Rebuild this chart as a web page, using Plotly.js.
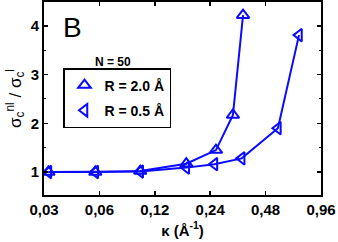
<!DOCTYPE html>
<html>
<head>
<meta charset="utf-8">
<script src="https://cdn.plot.ly/plotly-3.0.1.min.js"></script>
<style>html,body{margin:0;padding:0;background:#fff;}#chart{width:338px;height:242px;}</style>
</head>
<body>
<div id="chart"></div>
<script>
// Data
const kappaR20 = [0.0317, 0.057, 0.1, 0.178, 0.258, 0.319, 0.362];
const ratioR20 = [1.0, 1.0, 1.02, 1.17, 1.45, 2.17, 4.22];
const kappaR05 = [0.0317, 0.057, 0.1, 0.178, 0.253, 0.356, 0.56, 0.729];
const ratioR05 = [1.0, 1.0, 1.01, 1.09, 1.16, 1.28, 1.9, 3.81];
const xTickVals = [0.03, 0.06, 0.12, 0.24, 0.48, 0.96];
const xTickText = ['0,03', '0,06', '0,12', '0,24', '0,48', '0,96'];
const yTickVals = [1, 2, 3, 4];
const seriesNames = ['R = 2.0 Å', 'R = 0.5 Å'];

const blue = 'rgb(10,10,255)';
const FONT = '"Liberation Sans", Arial, sans-serif';

function lineTrace(x, y) {
  return {x: x, y: y, mode: 'lines', line: {color: blue, width: 2}, showlegend: false, hoverinfo: 'skip'};
}
function markerTrace(x, y, sym, name, grp) {
  return {x: x, y: y, mode: 'markers', name: name, legendgroup: grp,
    marker: {symbol: sym, size: 11, color: blue, line: {color: blue, width: 2}}};
}

const data = [
  lineTrace(kappaR20, ratioR20),
  lineTrace(kappaR05, ratioR05),
  markerTrace(kappaR20, ratioR20, 'triangle-up-open', seriesNames[0], 'a'),
  markerTrace(kappaR05, ratioR05, 'triangle-left-open', seriesNames[1], 'b')
];

const layout = {
  width: 338, height: 242,
  margin: {l: 44, r: 17, t: 2, b: 47},
  paper_bgcolor: '#fff', plot_bgcolor: '#fff',
  font: {family: FONT, color: '#000', size: 15},
  showlegend: true,
  legend: {x: 0.0686, y: 0.658, xanchor: 'left', yanchor: 'top',
    bordercolor: '#000', borderwidth: 1.5, bgcolor: '#fff',
    font: {family: FONT, size: 14, color: '#000', weight: 'bold'},
    traceorder: 'grouped', tracegroupgap: 4, itemwidth: 30},
  xaxis: {type: 'log', range: [Math.log10(0.03), Math.log10(0.96)],
    tickvals: xTickVals, ticktext: xTickText,
    tickfont: {family: FONT, size: 15, weight: 'bold'},
    ticks: 'inside', ticklen: 4, tickwidth: 1.5, tickcolor: '#000',
    showline: true, linecolor: '#000', linewidth: 2, mirror: 'ticks',
    showgrid: false, zeroline: false,
    title: {text: 'κ (Å<sup>-1</sup>)', font: {family: FONT, size: 15, weight: 'bold'}, standoff: 8}},
  yaxis: {range: [0.528, 4.49], tickvals: yTickVals,
    tickfont: {family: FONT, size: 15, weight: 'bold'},
    ticks: 'inside', ticklen: 4, tickwidth: 1.5, tickcolor: '#000',
    minor: {dtick: 0.5, ticks: 'inside', ticklen: 2, tickwidth: 1, tickcolor: '#000'},
    showline: true, linecolor: '#000', linewidth: 2, mirror: 'ticks',
    showgrid: false, zeroline: false,
    title: {text: 'σ<sub>c</sub><sup>nl</sup> / σ<sub>c</sub><sup>l</sup>', font: {family: FONT, size: 17}, standoff: 5}},
  annotations: [
    {text: 'B', xref: 'paper', yref: 'paper', x: 0.104, y: 0.868, xanchor: 'center', yanchor: 'middle',
      showarrow: false, font: {family: FONT, size: 28, color: '#000'}},
    {text: 'N = 50', xref: 'paper', yref: 'paper', x: 0.249, y: 0.689, xanchor: 'center', yanchor: 'middle',
      showarrow: false, font: {family: FONT, size: 12, color: '#000', weight: 'bold'}}
  ]
};

Plotly.newPlot('chart', data, layout, {displayModeBar: false, staticPlot: true});
</script>
</body>
</html>
